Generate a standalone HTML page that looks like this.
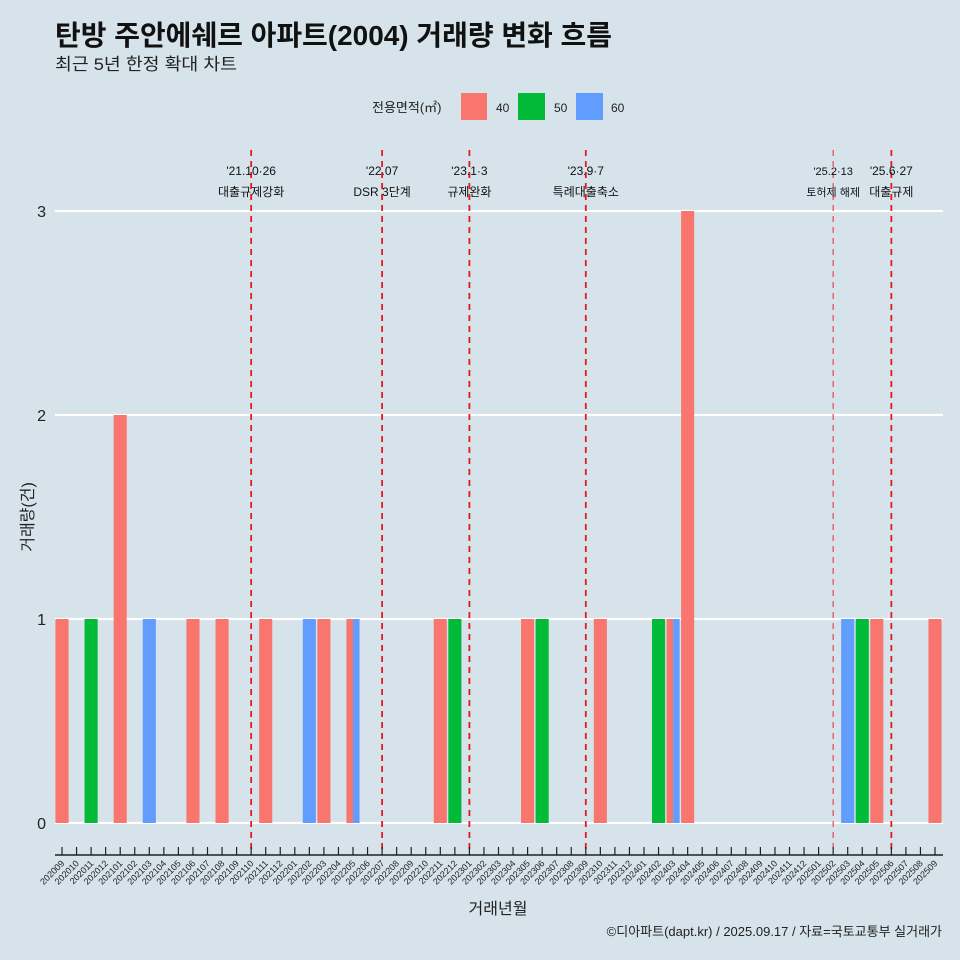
<!DOCTYPE html>
<html><head><meta charset="utf-8"><style>
body{margin:0;background:#d6e3ea;}
svg{display:block;font-family:"Liberation Sans","Noto Sans CJK KR",sans-serif;}
</style></head><body>
<svg id="chart" width="960" height="960" viewBox="0 0 960 960">
<rect width="960" height="960" fill="#d6e3ea"/>
<text x="55" y="45" font-size="28" font-weight="bold" fill="#111" textLength="557" lengthAdjust="spacingAndGlyphs">탄방 주안에쉐르 아파트(2004) 거래량 변화 흐름</text>
<text x="55" y="70" font-size="17" fill="#222" textLength="182" lengthAdjust="spacingAndGlyphs">최근 5년 한정 확대 차트</text>
<g>
<text x="372" y="112" font-size="13" fill="#222">전용면적(㎡)</text>
<rect x="461" y="93" width="26" height="27" fill="#f8766d"/>
<text x="496" y="112" font-size="12" fill="#222">40</text>
<rect x="518" y="93" width="27" height="27" fill="#00ba38"/>
<text x="554" y="112" font-size="12" fill="#222">50</text>
<rect x="576" y="93" width="27" height="27" fill="#619cff"/>
<text x="611" y="112" font-size="12" fill="#222">60</text>
</g>
<g id="grid"></g><g id="bars"></g><g id="events"></g><g id="axes"></g>
<text x="498" y="914" font-size="16" text-anchor="middle" fill="#222">거래년월</text>
<text transform="translate(33,517) rotate(-90)" font-size="16" text-anchor="middle" fill="#222">거래량(건)</text>
<text x="942" y="936" font-size="13" text-anchor="end" fill="#222">©디아파트(dapt.kr) / 2025.09.17 / 자료=국토교통부 실거래가</text>
</svg>
<script>
const months=[];for(let y=2020;y<=2025;y++)for(let m=1;m<=12;m++){const k=y*100+m;if(k>=202009&&k<=202509)months.push(String(k));}
const series40={"202009":1,"202101":2,"202106":1,"202108":1,"202111":1,"202203":1,"202205":1,"202211":1,"202305":1,"202310":1,"202403":1,"202404":3,"202505":1,"202509":1};
const series50={"202011":1,"202212":1,"202306":1,"202402":1,"202504":1};
const series60={"202103":1,"202202":1,"202205":1,"202403":1,"202503":1};
const yTicks=[0,1,2,3];
const eventMonths=["202110","202207","202301","202309","202502","202506"];
const eventDates=["'21.10·26","'22.07","'23.1·3","'23.9·7","'25.2·13","'25.6·27"];
const eventLabels=["대출규제강화","DSR 3단계","규제완화","특례대출축소","토허제 해제","대출규제"];
const NS="http://www.w3.org/2000/svg";
const x0=62,step=14.55;
const xs=m=>x0+months.indexOf(m)*step;
const ys=v=>823-v*204;
function mk(tag,attrs,parent){const e=document.createElementNS(NS,tag);for(const k in attrs)e.setAttribute(k,attrs[k]);parent.appendChild(e);return e;}
const grid=document.getElementById('grid'),bars=document.getElementById('bars'),ev=document.getElementById('events'),ax=document.getElementById('axes');
yTicks.forEach(t=>{
 const l=mk('line',{x1:55,x2:943,y1:ys(t),y2:ys(t),stroke:'#fff','stroke-width':2.2},grid);
 
 
 const tx=mk('text',{x:46,y:ys(t)+6,'font-size':16,'text-anchor':'end',fill:'#222'},grid);tx.textContent=t;
 
 
});
const cols={"40":"#f8766d","50":"#00ba38","60":"#619cff"};
const bw=13.1;
months.forEach(m=>{
 const present=[["40",series40[m]],["50",series50[m]],["60",series60[m]]].filter(p=>p[1]);
 const n=present.length;
 present.forEach((p,i)=>{
  const w=bw/n,x=xs(m)-bw/2+i*w;
  const r=mk('rect',{x:x,y:ys(p[1]),width:w,height:ys(0)-ys(p[1]),fill:cols[p[0]]},bars);
  
  
 });
});
eventMonths.forEach((m,i)=>{
 const x=xs(m),light=m==="202502";
 const l=mk('line',{x1:x,x2:x,y1:150,y2:855,stroke:light?'#e8474f':'#e41a1c','stroke-width':light?1.2:1.8,'stroke-dasharray':'6,5'},ev);
 
 
 const t1=mk('text',{x:x,y:175,'font-size':light?11:12,'text-anchor':'middle',fill:'#111'},ev);t1.textContent=eventDates[i];
 
 
 const t2=mk('text',{x:x,y:196,'font-size':light?11:12,'text-anchor':'middle',fill:'#111'},ev);t2.textContent=eventLabels[i];
 
 
});
const al=mk('line',{x1:55,x2:943,y1:855,y2:855,stroke:'#222','stroke-width':1.5},ax);


months.forEach(m=>{
 const x=xs(m);
 const tk=mk('line',{x1:x,x2:x,y1:847,y2:855,stroke:'#222','stroke-width':1.2},ax);
 
 
 const t=mk('text',{x:x+3,y:864,'font-size':9,'text-anchor':'end',fill:'#222',transform:`rotate(-45 ${x+3} 864)`},ax);t.textContent=m;
 
 
});
</script>
</body></html>
